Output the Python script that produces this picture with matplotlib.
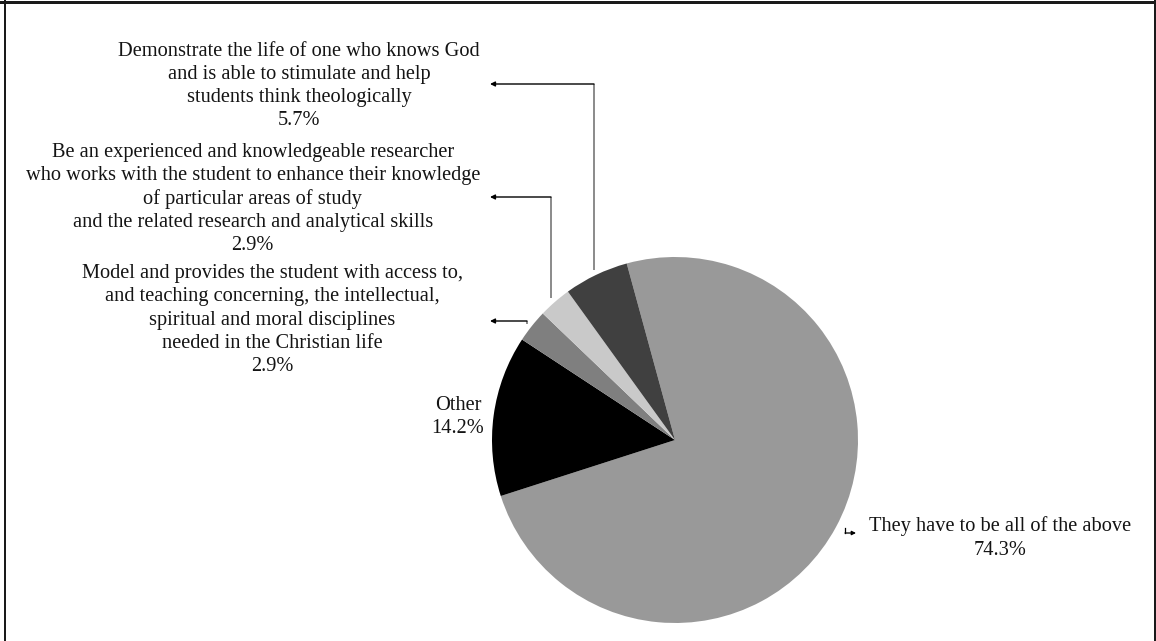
import matplotlib
matplotlib.use("Agg")
import matplotlib.pyplot as plt
from matplotlib.lines import Line2D

W, H, DPI = 1156, 641, 100

# Survey answers, in drawing order (clockwise from the top)
labels = [
    "They have to be all of the above",
    "Other",
    "Model and provides the student with access to,\n"
    "and teaching concerning, the intellectual,\n"
    "spiritual and moral disciplines\n"
    "needed in the Christian life",
    "Be an experienced and knowledgeable researcher\n"
    "who works with the student to enhance their knowledge\n"
    "of particular areas of study\n"
    "and the related research and analytical skills",
    "Demonstrate the life of one who knows God\n"
    "and is able to stimulate and help\n"
    "students think theologically",
]
shares = [74.3, 14.2, 2.9, 2.9, 5.7]
colors = ["#999999", "#000000", "#7f7f7f", "#c9c9c9", "#404040"]

plt.rcParams["font.family"] = ["Liberation Serif", "DejaVu Serif"]
FS = 14.65

fig = plt.figure(figsize=(W / DPI, H / DPI), dpi=DPI)
ax = fig.add_axes([0, 0, 1, 1])


def Y(y):
    """Convert a top-down pixel row into the axes' bottom-up coordinate."""
    return H - y


cx, cy, r = 675, 440, 183
ax.pie(shares, colors=colors, startangle=105.3, counterclock=False,
       center=(cx, Y(cy)), radius=r, wedgeprops=dict(linewidth=0))
ax.set_xlim(0, W)
ax.set_ylim(0, H)
ax.set_aspect("equal")
ax.axis("off")

texts = [f"{lab}\n{val:.1f}%" for lab, val in zip(labels, shares)]

# Label placement: (x, y, ha)
placement = {
    0: (1000, 538, "center"),
    1: (458, 417, "center"),
    2: (463, 320, "right"),
    3: (480, 199, "right"),
    4: (480, 86, "right"),
}
for i, (x, y, ha) in placement.items():
    ax.text(x, Y(y), texts[i], ha=ha, va="center", multialignment="center",
            fontsize=FS, color="#141414", linespacing=1.30)

# Elbow leader lines from the thin slices to their labels
arrow_kw = dict(arrowstyle="-|>", color="black", lw=1.0, mutation_scale=7,
                shrinkA=0, shrinkB=0)
leaders = [  # (x of vertical, y bottom of vertical, y of horizontal)
    (594, 270, 84),
    (551, 298, 197),
    (527, 324, 321),
]
for xv, yb, yh in leaders:
    ax.plot([xv, xv], [Y(yb), Y(yh)], color="#777777", lw=1.2,
            solid_capstyle="butt")
    ax.annotate("", xy=(490, Y(yh)), xytext=(xv, Y(yh)), arrowprops=arrow_kw)

# Small hook pointing at the large slice's label
ax.plot([845, 845], [Y(528), Y(533)], color="black", lw=0.9)
ax.annotate("", xy=(856, Y(533)), xytext=(845, Y(533)),
            arrowprops=dict(arrowstyle="-|>", color="black", lw=0.9,
                            mutation_scale=6, shrinkA=0, shrinkB=0))

# Outer frame (top, left, right)
frame_col = "#1a1a1a"
fig.add_artist(Line2D([0, 1], [1 - 1.5 / H, 1 - 1.5 / H], color=frame_col,
                      lw=3 * 72 / DPI, transform=fig.transFigure))
fig.add_artist(Line2D([5 / W, 5 / W], [0, 1], color=frame_col,
                      lw=2 * 72 / DPI, transform=fig.transFigure))
fig.add_artist(Line2D([1 - 1.5 / W, 1 - 1.5 / W], [0, 1], color=frame_col,
                      lw=2 * 72 / DPI, transform=fig.transFigure))

fig.savefig("out.png", dpi=DPI, facecolor="white")
